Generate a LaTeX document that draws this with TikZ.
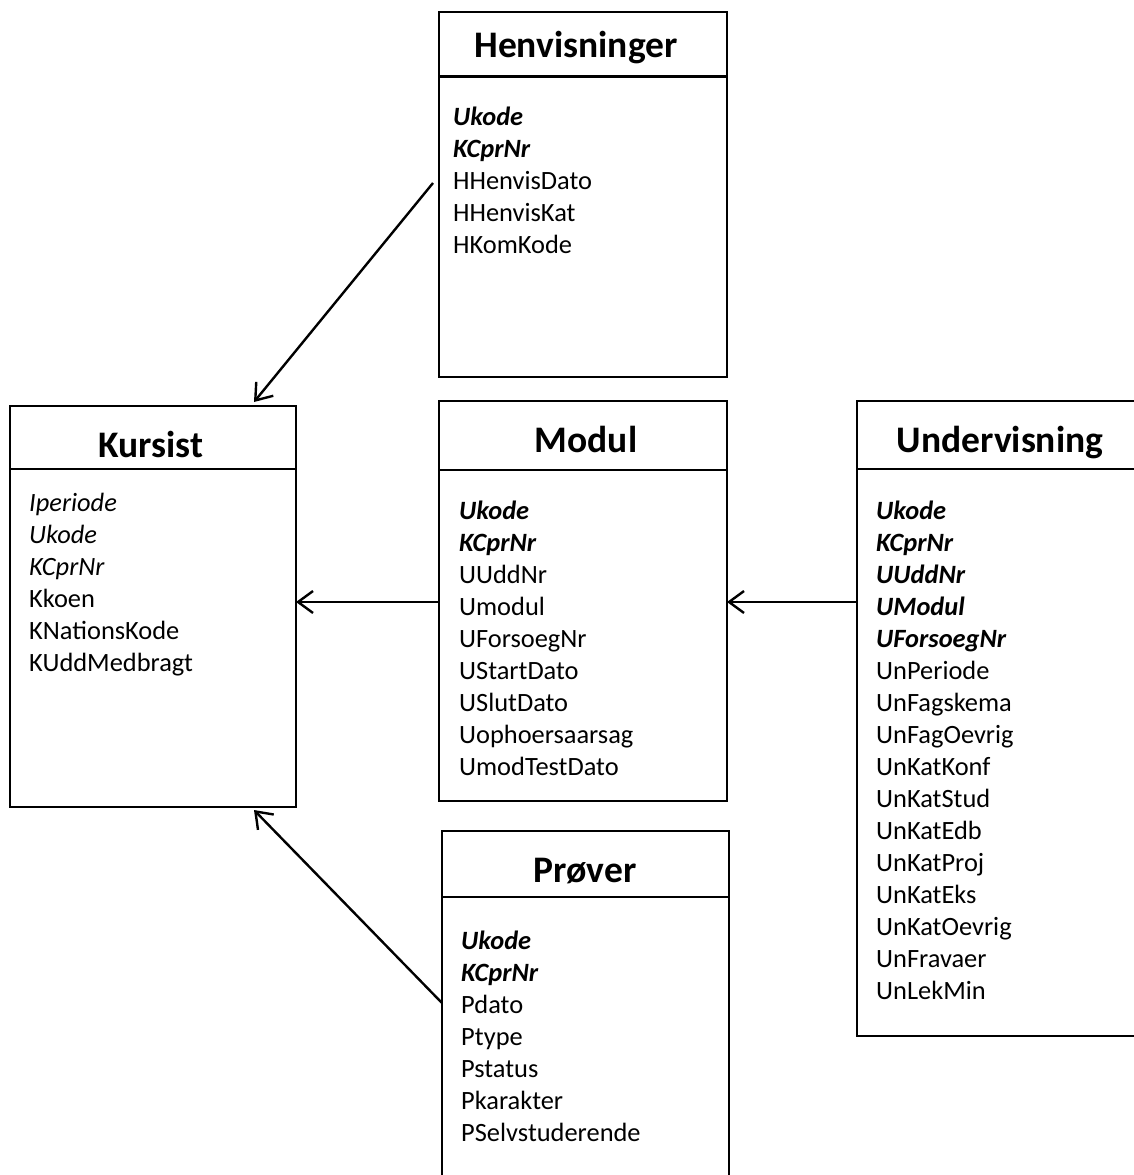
\documentclass[tikz,border=0pt]{standalone}
\usepackage{fontspec}
\setmainfont{Carlito}
\usetikzlibrary{arrows.meta}
\newcommand\fldbi{\bfseries\itshape}
\newcommand\fldit{\itshape}
\tikzset{
  tbl/.style={draw=black, line width=2.8pt, fill=white, anchor=north west, inner sep=0pt, outer sep=0pt},
  ttl/.style={anchor=base, inner sep=0pt, font=\fontsize{37.5}{44}\selectfont\bfseries},
  fld/.style={anchor=base west, inner sep=0pt, font=\fontsize{26.4}{32}\selectfont},
  conn/.style={line width=2.4pt, -{Straight Barb[length=15pt,width=22pt,line width=2.4pt]}},
  divider/.style={line width=2.6pt}
}
\begin{document}
\begin{tikzpicture}[x=1pt,y=-1pt]
\useasboundingbox (0,0) rectangle (1134,1175);
\clip (0,0) rectangle (1134,1175);
% tables
\node[tbl, minimum width=288pt, minimum height=365pt] (henv) at (439,12) {};
\node[tbl, minimum width=286pt, minimum height=401pt] (kurs) at (10,406) {};
\node[tbl, minimum width=288pt, minimum height=400pt] (modul) at (439,401) {};
\node[tbl, minimum width=288pt, minimum height=635pt] (underv) at (857,401) {};
\node[tbl, minimum width=287pt, minimum height=400pt] (prov) at (442,831) {};
% dividers
\draw[divider] ([yshift=-64.5pt]henv.north west) -- ([yshift=-64.5pt]henv.north east);
\draw[divider] ([yshift=-63pt]kurs.north west) -- ([yshift=-63pt]kurs.north east);
\draw[divider] ([yshift=-69pt]modul.north west) -- ([yshift=-69pt]modul.north east);
\draw[divider] ([yshift=-68pt]underv.north west) -- ([yshift=-68pt]underv.north east);
\draw[divider] ([yshift=-66pt]prov.north west) -- ([yshift=-66pt]prov.north east);
% titles
\node[ttl] (henvT) at (576,57) {Henvisninger};
\node[ttl] (kursT) at (151,457) {Kursist};
\node[ttl] (modulT) at (586,452) {Modul};
\node[ttl] (undervT) at (1000,452) {Undervisning};
\node[ttl] (provT) at (585,882) {Prøver};
% fields
\foreach \t [count=\i] in {{\fldbi Ukode},{\fldbi KCprNr},HHenvisDato,HHenvisKat,HKomKode}
  \node[fld] (henv-f\i) at (453,{125+32*(\i-1)}) {\t};
\foreach \t [count=\i] in {{\fldit Iperiode},{\fldit Ukode},{\fldit KCprNr},Kkoen,KNationsKode,KUddMedbragt}
  \node[fld] (kurs-f\i) at (29,{511+32*(\i-1)}) {\t};
\foreach \t [count=\i] in {{\fldbi Ukode},{\fldbi KCprNr},UUddNr,Umodul,UForsoegNr,UStartDato,USlutDato,Uophoersaarsag,UmodTestDato}
  \node[fld] (modul-f\i) at (459,{519+32*(\i-1)}) {\t};
\foreach \t [count=\i] in {{\fldbi Ukode},{\fldbi KCprNr},{\fldbi UUddNr},{\fldbi UModul},{\fldbi UForsoegNr},UnPeriode,UnFagskema,UnFagOevrig,UnKatKonf,UnKatStud,UnKatEdb,UnKatProj,UnKatEks,UnKatOevrig,UnFravaer,UnLekMin}
  \node[fld] (underv-f\i) at (876,{519+32*(\i-1)}) {\t};
\foreach \t [count=\i] in {{\fldbi Ukode},{\fldbi KCprNr},Pdato,Ptype,Pstatus,Pkarakter,PSelvstuderende}
  \node[fld] (prov-f\i) at (461,{949+32*(\i-1)}) {\t};
% connector end points
\coordinate (hStart) at (433,183);
\coordinate (kTop) at (254,402);
\coordinate (pStart) at (442,1003);
\coordinate (kBot) at (254,810);
\draw[conn] (hStart) -- (kTop);
\draw[conn] (modul.west |- 0,602) -- (kurs.east |- 0,602);
\draw[conn] (underv.west |- 0,602) -- (modul.east |- 0,602);
\draw[conn] (pStart) -- (kBot);
\end{tikzpicture}
\end{document}
